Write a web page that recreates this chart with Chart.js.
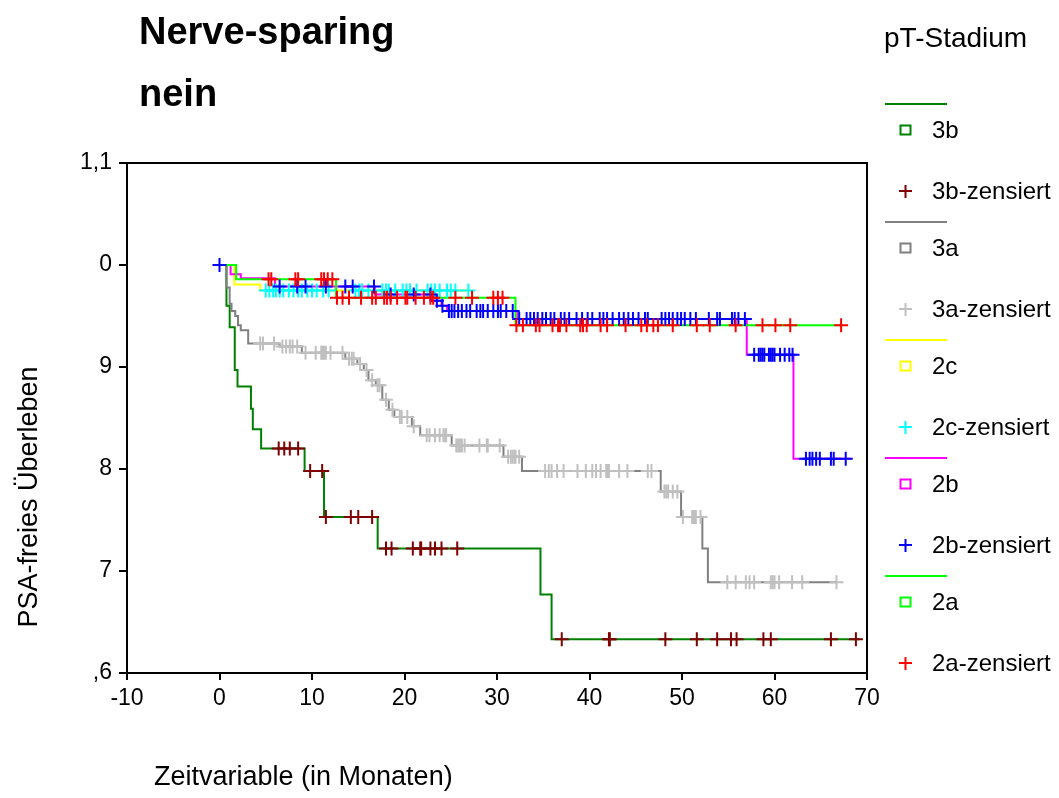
<!DOCTYPE html>
<html>
<head>
<meta charset="utf-8">
<script src="https://cdn.jsdelivr.net/npm/chart.js@4.4.1/dist/chart.umd.min.js"></script>
<style>
  html, body { margin: 0; padding: 0; background: #fff; }
  canvas { display: block; }
</style>
</head>
<body>
<canvas id="km" width="1059" height="798"></canvas>
<script>
// Kaplan-Meier, Nerve-sparing = nein, getrennt nach pT-Stadium
// Stufen: Zeitpunkt (Monate) -> PSA-freies Überleben danach; letzter Eintrag = Ende der Kurve
var t3b = [0, 0.75, 1.1, 1.65, 1.95, 3.4, 3.6, 4.5, 9.2, 11.3, 17.1, 34.7, 35.9, 69.2];
var s3b = [1, 0.960, 0.939, 0.897, 0.881, 0.859, 0.839, 0.820, 0.798, 0.753, 0.722, 0.677, 0.633, 0.633];
var c3b = [6.4, 7.0, 7.6, 8.5, 9.8, 11.1, 11.5, 14.2, 15.0, 16.5, 18.0, 18.6, 20.9, 21.7, 21.8, 22.8, 23.3, 24.0, 25.7,
           37.0, 42.1, 42.2, 48.2, 51.6, 53.8, 55.3, 55.9, 58.8, 59.6, 66.1, 68.8];

var t3a = [0, 0.75, 1.1, 1.3, 1.7, 2.0, 2.3, 3.1, 6.5, 8.9, 13.6, 14.9, 15.6, 16.1, 16.9, 17.6, 18.3, 18.9, 20.8, 21.7,
           25.1, 30.7, 32.7, 47.7, 49.9, 52.2, 52.8, 66.7];
var s3a = [1, 0.978, 0.962, 0.955, 0.950, 0.941, 0.936, 0.923, 0.920, 0.914, 0.908, 0.903, 0.897, 0.887, 0.882, 0.868,
           0.858, 0.851, 0.842, 0.833, 0.823, 0.812, 0.798, 0.778, 0.753, 0.722, 0.689, 0.689];
var c3a = [4.4, 4.7, 5.9, 6.8, 7.2, 7.6, 7.9, 8.4, 9.3, 10.4, 11.0, 11.1, 11.3, 11.5, 12.0, 13.3, 14.0, 14.3, 14.5, 15.2,
           15.9, 16.5, 17.1, 17.3, 18.0, 18.7, 19.5, 19.7, 20.3, 21.0, 22.4, 22.7, 23.3, 23.8, 24.2, 24.4, 24.5, 25.6,
           25.8, 26.0, 26.2, 26.5, 28.1, 28.9, 29.0, 30.3, 31.2, 31.5, 31.7, 31.9, 32.0, 32.4, 35.2, 35.6, 35.9, 36.5,
           37.2, 38.7, 39.6, 40.3, 40.7, 41.2, 41.8, 41.9, 42.1, 43.2, 44.1, 46.3, 46.7, 48.1, 48.3, 48.5, 49.0, 49.5,
           50.1, 51.1, 51.3, 51.5, 52.0, 54.9, 55.8, 56.9, 57.3, 57.8, 59.6, 59.8, 60.0, 60.5, 61.9, 63.0, 66.7];

var t2c = [0, 1.6, 4.4, 26.9];
var s2c = [1, 0.981, 0.975, 0.975];
var c2c = [5.0, 5.4, 5.8, 6.1, 6.5, 6.9, 7.5, 8.0, 8.5, 8.9, 9.5, 10.0, 10.5, 11.2, 11.8, 14.7, 15.1, 15.4, 16.1, 17.6,
           18.0, 18.3, 19.0, 19.8, 20.2, 20.6, 21.3, 22.5, 22.9, 23.3, 23.8, 24.6, 25.0, 25.5, 26.9];

var t2b = [0, 1.2, 2.3, 6.0, 16.8, 23.0, 24.0, 24.6, 32.2, 57.0, 62.05, 68.3];
var s2b = [1, 0.991, 0.987, 0.979, 0.971, 0.965, 0.960, 0.955, 0.947, 0.912, 0.810, 0.810];
var c2b = [0, 6.5, 8.4, 9.3, 11.5, 13.6, 14.4, 16.7, 18.5, 21.0, 22.8, 23.5, 24.1, 24.8, 25.1, 25.4, 25.8, 26.2, 26.7,
           27.1, 27.8, 28.2, 28.5, 29.0, 29.6, 30.1, 30.4, 31.0, 31.7, 32.4, 33.2, 33.6, 34.0, 34.4, 34.9, 35.3, 35.8,
           36.2, 36.9, 37.3, 37.8, 38.6, 39.2, 39.8, 40.3, 41.1, 41.5, 41.9, 42.5, 43.2, 43.7, 44.2, 44.7, 45.3, 46.0,
           46.3, 47.8, 48.2, 48.6, 49.0, 49.5, 49.9, 50.3, 50.9, 51.5, 52.9, 53.8, 54.1, 55.4, 55.7, 56.1, 56.8, 57.8,
           58.3, 58.5, 58.7, 58.9, 59.4, 59.6, 59.8, 60.0, 60.6, 61.1, 61.6, 61.95, 63.4, 63.8, 64.1, 64.5, 64.9, 66.1,
           66.4, 67.7];

var t2a = [0, 1.8, 12.6, 32.0, 67.2];
var s2a = [1, 0.986, 0.968, 0.941, 0.941];
var c2a = [5.3, 5.6, 8.2, 8.5, 11.0, 11.3, 11.7, 12.2, 12.7, 13.3, 14.0, 15.3, 16.5, 16.9, 17.8, 18.1, 18.5, 19.2, 20.1,
           20.3, 21.2, 22.1, 22.8, 23.1, 25.5, 27.3, 29.6, 30.1, 30.6, 32.1, 32.8, 34.2, 34.6, 36.0, 36.6, 36.8, 37.5,
           39.0, 39.3, 39.7, 41.2, 41.9, 43.9, 45.6, 46.2, 46.9, 47.4, 49.0, 51.6, 53.0, 55.8, 58.7, 60.1, 61.7, 67.2];

var yTickLabels = [',6', '7', '8', '9', '0', '1,1'];

function curve(times, surv) {
  return times.map(function (t, i) { return {x: t, y: surv[i]}; });
}
// zensierte Fälle sitzen auf der Kurve
function marks(ct, times, surv) {
  return ct.map(function (t) {
    var v = surv[0];
    for (var i = 0; i < times.length; i++) { if (times[i] <= t + 1e-9) v = surv[i]; }
    return {x: t, y: v};
  });
}

function lineSet(label, times, surv, color) {
  return {
    label: label, data: curve(times, surv), stepped: true,
    borderColor: color, borderWidth: 2, pointRadius: 0, fill: false, kind: 'line'
  };
}
function censSet(label, ct, times, surv, color) {
  return {
    label: label, data: marks(ct, times, surv), showLine: false,
    borderColor: color, backgroundColor: color, pointStyle: 'cross',
    pointRadius: 7, pointHoverRadius: 7, pointBorderWidth: 2, kind: 'cross'
  };
}

// erste Datensätze liegen oben
var datasets = [
  censSet('2a-zensiert', c2a, t2a, s2a, '#ff0000'),
  censSet('2b-zensiert', c2b, t2b, s2b, '#0000ff'),
  censSet('2c-zensiert', c2c, t2c, s2c, '#00ffff'),
  censSet('3b-zensiert', c3b, t3b, s3b, '#800000'),
  censSet('3a-zensiert', c3a, t3a, s3a, '#c0c0c0'),
  lineSet('2a', t2a, s2a, '#00ff00'),
  lineSet('2b', t2b, s2b, '#ff00ff'),
  lineSet('2c', t2c, s2c, '#ffff00'),
  lineSet('3a', t3a, s3a, '#808080'),
  lineSet('3b', t3b, s3b, '#008000')
];

var legendOrder = ['3b', '3b-zensiert', '3a', '3a-zensiert', '2c', '2c-zensiert', '2b', '2b-zensiert', '2a', '2a-zensiert'];

var decor = {
  id: 'decor',
  afterDraw: function (chart) {
    var ctx = chart.ctx, a = chart.chartArea;
    ctx.save();
    // Rahmen oben/rechts
    ctx.strokeStyle = '#000';
    ctx.lineWidth = 2;
    ctx.beginPath();
    ctx.moveTo(a.left, a.top); ctx.lineTo(a.right, a.top); ctx.lineTo(a.right, a.bottom);
    ctx.stroke();

    ctx.fillStyle = '#000';
    ctx.textBaseline = 'alphabetic';
    ctx.textAlign = 'left';
    ctx.font = 'bold 38px "Liberation Sans", Arial, sans-serif';
    ctx.fillText('Nerve-sparing', 139, 44);
    ctx.fillText('nein', 139, 106);

    ctx.font = '27px "Liberation Sans", Arial, sans-serif';
    ctx.textBaseline = 'middle';
    ctx.fillText('Zeitvariable (in Monaten)', 154, 778);
    ctx.save();
    ctx.translate(30, 497);
    ctx.rotate(-Math.PI / 2);
    ctx.textAlign = 'center';
    ctx.fillText('PSA-freies Überleben', 0, 0);
    ctx.restore();

    ctx.font = '28px "Liberation Sans", Arial, sans-serif';
    ctx.fillText('pT-Stadium', 884, 39);

    // Legende
    ctx.font = '24px "Liberation Sans", Arial, sans-serif';
    var y = 104;
    legendOrder.forEach(function (lab) {
      var ds = datasets.filter(function (d) { return d.label === lab; })[0];
      ctx.strokeStyle = ds.borderColor;
      ctx.lineWidth = 2;
      if (ds.kind === 'line') {
        ctx.beginPath(); ctx.moveTo(885, y); ctx.lineTo(947, y); ctx.stroke();
        var by = y + 26;
        ctx.strokeRect(900.5, by - 4.5, 10, 9);
        ctx.fillStyle = '#000';
        ctx.fillText(lab, 932, by + 1);
        y = by;
      } else {
        var cy = y + 61;
        ctx.beginPath();
        ctx.moveTo(899, cy); ctx.lineTo(912, cy);
        ctx.moveTo(905.5, cy - 6); ctx.lineTo(905.5, cy + 7);
        ctx.stroke();
        ctx.fillStyle = '#000';
        ctx.fillText(lab, 932, cy + 1);
        y = cy + 31;
      }
    });
    ctx.restore();
  }
};

var tickFont = {family: '"Liberation Sans", Arial, sans-serif', size: 23};

new Chart(document.getElementById('km'), {
  type: 'line',
  data: {datasets: datasets},
  options: {
    responsive: false,
    animation: false,
    layout: {padding: {left: 0, top: 163, right: 192, bottom: 0}},
    plugins: {legend: {display: false}, tooltip: {enabled: false}},
    scales: {
      x: {
        type: 'linear', min: -10, max: 70,
        ticks: {stepSize: 10, color: '#000', font: tickFont, padding: 5, maxRotation: 0},
        grid: {drawOnChartArea: false, drawTicks: true, tickLength: 7, color: '#000', lineWidth: 2},
        border: {display: true, color: '#000', width: 2},
        afterFit: function (s) { s.height = 125; }
      },
      y: {
        type: 'linear', min: 0.6, max: 1.1,
        ticks: {
          stepSize: 0.1, color: '#000', font: tickFont, padding: 7,
          callback: function (v, i) { return yTickLabels[i]; }
        },
        grid: {drawOnChartArea: false, drawTicks: true, tickLength: 8, color: '#000', lineWidth: 2},
        border: {display: true, color: '#000', width: 2},
        afterFit: function (s) { s.width = 127; }
      }
    }
  },
  plugins: [decor]
});
</script>
</body>
</html>
